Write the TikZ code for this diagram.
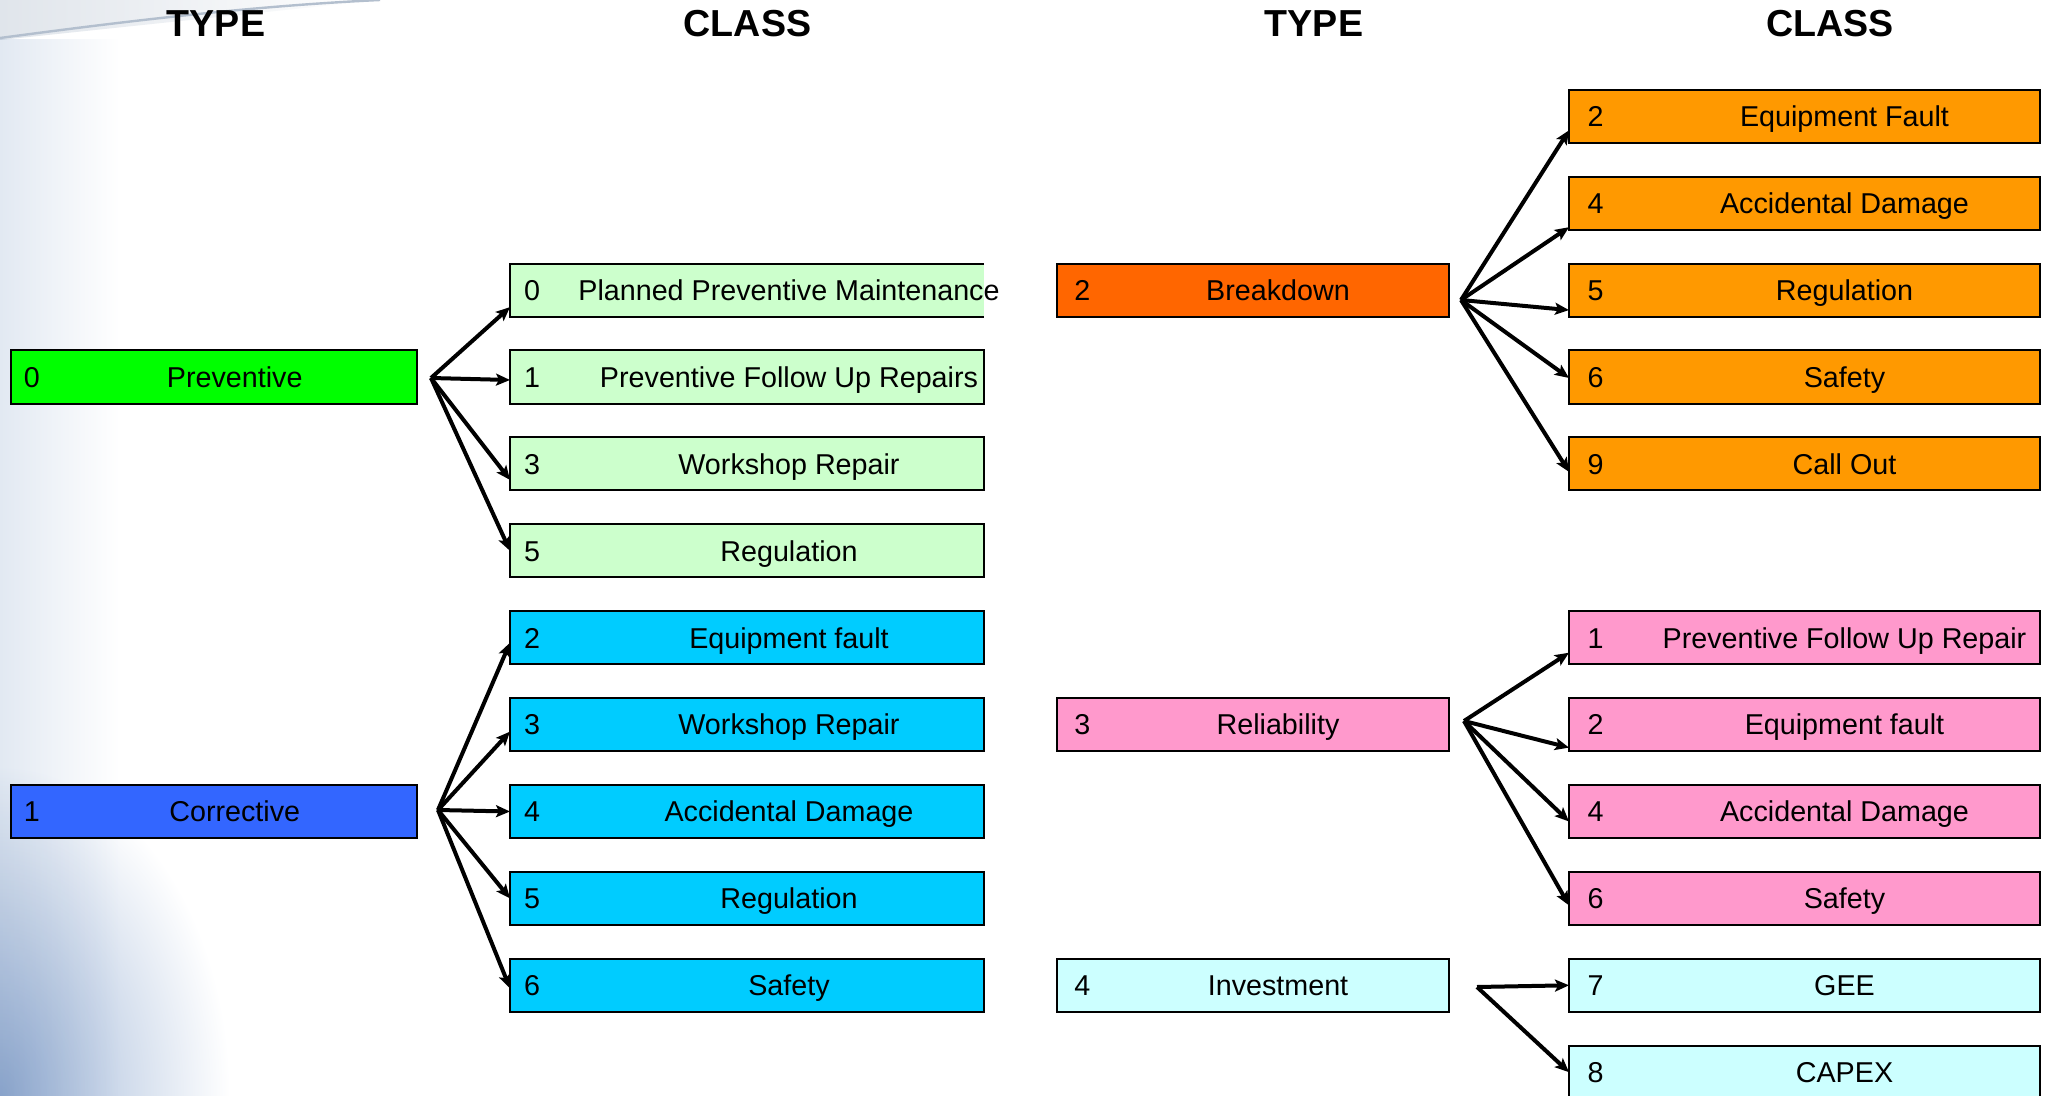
\documentclass[tikz,border=0pt]{standalone}
\usepackage{fontspec}
\setmainfont{Liberation Sans}
\usetikzlibrary{arrows.meta}
\definecolor{cGreen}{HTML}{00FF00}
\definecolor{cLGreen}{HTML}{CCFFCC}
\definecolor{cBlue}{HTML}{3366FF}
\definecolor{cCyan}{HTML}{00CCFF}
\definecolor{cDOrange}{HTML}{FF6600}
\definecolor{cOrange}{HTML}{FF9900}
\definecolor{cPink}{HTML}{FF99CC}
\definecolor{cLCyan}{HTML}{CCFFFF}
\definecolor{bgA}{HTML}{E2E9F2}
\definecolor{bgB}{HTML}{9AB2D5}
\definecolor{bgC}{HTML}{E0E5EB}
\definecolor{bgStreak}{HTML}{B3BFCE}
\newcommand{\lblfont}{\fontsize{14.35pt}{17pt}\selectfont}
\newcommand{\ttlfont}{\fontsize{18.8pt}{22pt}\selectfont\bfseries}
\begin{document}
\begin{tikzpicture}[x=0.5pt,y=-0.5pt,
  box/.style={draw=black, line width=1pt, minimum height=26.5pt, inner sep=0pt, outer sep=0pt},
  txt/.style={font=\lblfont, inner sep=0pt, text height=10.3pt, text depth=0pt},
  ltype/.style 2 args={box, minimum width=203.25pt,
    label={[txt, xshift=-90.9pt]center:#1}, label={[txt, xshift=10.5pt]center:#2}},
  lclass/.style 2 args={box, minimum width=237pt,
    label={[txt, xshift=-107.5pt]center:#1}, label={[txt, xshift=21pt]center:#2}},
  rtype/.style 2 args={box, minimum width=196pt,
    label={[txt, xshift=-85.35pt]center:#1}, label={[txt, xshift=12.5pt]center:#2}},
  rclass/.style 2 args={box, minimum width=235.5pt,
    label={[txt, xshift=-104.5pt]center:#1}, label={[txt, xshift=20pt]center:#2}},
  fan/.style={line width=2pt, -{Stealth[length=7pt,width=6pt,inset=1.5pt]}, line join=round},
  ttl/.style={font=\ttlfont, anchor=base, inner sep=0pt}
]
\useasboundingbox (0,0) rectangle (2049,1096);
% background
\fill[white] (0,0) rectangle (2049,1096);
\shade[left color=bgA, right color=white] (0,40) rectangle (120,1096);
\begin{scope}[blend mode=multiply]
  \shade[inner color=bgB, outer color=white] (0,1096) ellipse [x radius=230, y radius=330];
  \shade[left color=bgC, right color=white] (0,0) -- (380,0) -- (0,40) -- cycle;
\end{scope}
\draw[bgStreak, line width=1.2pt] (0,38) .. controls (120,22) and (250,6) .. (380,0);

% titles
\node[ttl] (t1) at (216,37) {TYPE};
\node[ttl] (t2) at (747.5,37) {CLASS};
\node[ttl] (t3) at (1314,37) {TYPE};
\node[ttl] (t4) at (1830,37) {CLASS};

% left types
\node[ltype={0}{Preventive}, fill=cGreen] (tp) at (213.75,377.0) {};
\node[ltype={1}{Corrective}, fill=cBlue] (tc) at (213.75,811.5) {};

% left classes
\node[lclass={0}{Planned Preventive Maintenance}, fill=cLGreen, draw=none] (cl0) at (747,290.1) {};
\draw[line width=1pt] (cl0.north east) -- (cl0.north west) -- (cl0.south west) -- (cl0.south east);
\node[lclass={1}{Preventive Follow Up Repairs}, fill=cLGreen] (cl1) at (747,377.0) {};
\node[lclass={3}{Workshop Repair}, fill=cLGreen] (cl2) at (747,463.9) {};
\node[lclass={5}{Regulation}, fill=cLGreen] (cl3) at (747,550.8) {};
\node[lclass={2}{Equipment fault}, fill=cCyan] (cl4) at (747,637.7) {};
\node[lclass={3}{Workshop Repair}, fill=cCyan] (cl5) at (747,724.6) {};
\node[lclass={4}{Accidental Damage}, fill=cCyan] (cl6) at (747,811.5) {};
\node[lclass={5}{Regulation}, fill=cCyan] (cl7) at (747,898.4) {};
\node[lclass={6}{Safety}, fill=cCyan] (cl8) at (747,985.3) {};

% right types
\node[rtype={2}{Breakdown}, fill=cDOrange] (tb) at (1253,290.1) {};
\node[rtype={3}{Reliability}, fill=cPink] (tr) at (1253,724.6) {};
\node[rtype={4}{Investment}, fill=cLCyan] (ti) at (1253,985.3) {};

% right classes
\node[rclass={2}{Equipment Fault}, fill=cOrange] (cr0) at (1804.5,116.3) {};
\node[rclass={4}{Accidental Damage}, fill=cOrange] (cr1) at (1804.5,203.2) {};
\node[rclass={5}{Regulation}, fill=cOrange] (cr2) at (1804.5,290.1) {};
\node[rclass={6}{Safety}, fill=cOrange] (cr3) at (1804.5,377.0) {};
\node[rclass={9}{Call Out}, fill=cOrange] (cr4) at (1804.5,463.9) {};
\node[rclass={1}{Preventive Follow Up Repair}, fill=cPink] (cr5) at (1804.5,637.7) {};
\node[rclass={2}{Equipment fault}, fill=cPink] (cr6) at (1804.5,724.6) {};
\node[rclass={4}{Accidental Damage}, fill=cPink] (cr7) at (1804.5,811.5) {};
\node[rclass={6}{Safety}, fill=cPink] (cr8) at (1804.5,898.4) {};
\node[rclass={7}{GEE}, fill=cLCyan] (cr9) at (1804.5,985.3) {};
\node[rclass={8}{CAPEX}, fill=cLCyan] (cr10) at (1804.5,1072.2) {};

% fan origins
\coordinate (oP) at (431,378);
\coordinate (oC) at (438,810);
\coordinate (oB) at (1461,300);
\coordinate (oR) at (1464,721);
\coordinate (oI) at (1477,987);

% arrows
\draw[fan] (oP) -- ([yshift=-8.5pt]cl0.west);
\draw[fan] (oP) -- ([yshift=-1.5pt]cl1.west);
\draw[fan] (oP) -- ([yshift=-8pt]cl2.west);
\draw[fan] (oP) -- (cl3.west);

\draw[fan] (oC) -- ([yshift=-2.5pt]cl4.west);
\draw[fan] (oC) -- ([yshift=-3.5pt]cl5.west);
\draw[fan] (oC) -- (cl6.west);
\draw[fan] (oC) -- (cl7.west);
\draw[fan] (oC) -- ([yshift=-1.5pt]cl8.west);

\draw[fan] (oB) -- ([yshift=-7pt]cr0.west);
\draw[fan] (oB) -- ([yshift=-12pt]cr1.west);
\draw[fan] (oB) -- ([yshift=-10pt]cr2.west);
\draw[fan] (oB) -- ([yshift=-0.5pt]cr3.west);
\draw[fan] (oB) -- ([yshift=-4pt]cr4.west);

\draw[fan] (oR) -- ([yshift=-7.5pt]cr5.west);
\draw[fan] (oR) -- ([yshift=-11.5pt]cr6.west);
\draw[fan] (oR) -- ([yshift=-5pt]cr7.west);
\draw[fan] (oR) -- ([yshift=-3.5pt]cr8.west);

\draw[fan] (oI) -- (cr9.west);
\draw[fan] (oI) -- (cr10.west);
\end{tikzpicture}
\end{document}
